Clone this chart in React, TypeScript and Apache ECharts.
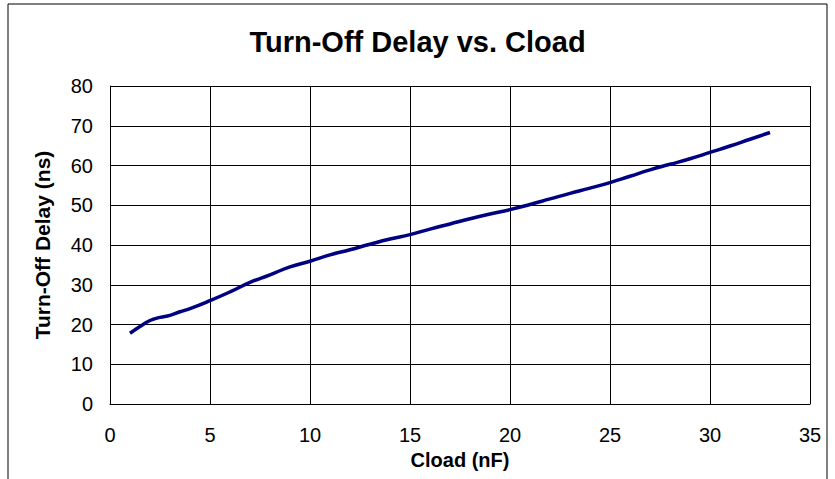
import React, { useEffect, useRef } from "react";
import * as echarts from "echarts";

const titleText = "Turn-Off Delay vs. Cload";
const xName = "Cload (nF)";
const yName = "Turn-Off Delay (ns)";
const cloadNF = [1, 1.5, 2, 2.5, 3, 3.5, 4, 5, 6, 7, 8, 9, 10, 11, 12, 13, 14, 15, 16, 17, 18, 19, 20, 21, 22, 23, 24, 25, 26, 27, 28, 29, 30, 31, 32, 33];
const delayNS = [17.8, 19.5, 21.0, 21.8, 22.3, 23.2, 24.0, 26.0, 28.2, 30.6, 32.5, 34.5, 35.9, 37.5, 38.8, 40.2, 41.5, 42.6, 44.0, 45.3, 46.6, 47.8, 48.9, 50.2, 51.6, 53.0, 54.3, 55.7, 57.3, 58.9, 60.3, 61.7, 63.3, 64.9, 66.6, 68.3];

const FONT = "'Liberation Sans', Arial, sans-serif";

export default function App() {
  const ref = useRef<HTMLDivElement>(null);
  useEffect(() => {
    if (!ref.current) return;
    const chart = echarts.init(ref.current, null, { renderer: "svg" });
    chart.setOption({
      animation: false,
      backgroundColor: "#ffffff",
      title: {
        text: titleText,
        left: "center",
        top: 22,
        textStyle: { fontFamily: FONT, fontSize: 29, fontWeight: "bold", color: "#000" },
      },
      graphic: [
        {
          type: "rect",
          shape: { x: 8, y: 4, width: 819, height: 490 },
          style: { fill: "none", stroke: "#000", lineWidth: 1 },
          silent: true,
        },
      ],
      grid: { left: 110, right: 25, top: 86, bottom: 75, containLabel: false, show: false },
      xAxis: {
        type: "value",
        min: 0,
        max: 35,
        interval: 5,
        name: xName,
        nameLocation: "middle",
        nameGap: 46,
        nameTextStyle: { fontFamily: FONT, fontSize: 20, fontWeight: "bold", color: "#000" },
        axisLine: { show: true, lineStyle: { color: "#000", width: 1 } },
        axisTick: { show: false },
        axisLabel: { fontFamily: FONT, fontSize: 20, color: "#000", margin: 21 },
        splitLine: { show: true, lineStyle: { color: "#000", width: 1 } },
      },
      yAxis: {
        type: "value",
        min: 0,
        max: 80,
        interval: 10,
        name: yName,
        nameLocation: "middle",
        nameGap: 57,
        nameRotate: 90,
        nameTextStyle: { fontFamily: FONT, fontSize: 21, fontWeight: "bold", color: "#000" },
        axisLine: { show: true, lineStyle: { color: "#000", width: 1 } },
        axisTick: { show: false },
        axisLabel: { fontFamily: FONT, fontSize: 20, color: "#000", margin: 17 },
        splitLine: { show: true, lineStyle: { color: "#000", width: 1 } },
      },
      series: [
        {
          type: "line",
          data: cloadNF.map((x, i) => [x, delayNS[i]]),
          smooth: true,
          showSymbol: false,
          lineStyle: { color: "#000080", width: 3.5 },
        },
      ],
    });
    return () => chart.dispose();
  }, []);
  return <div ref={ref} style={{ width: 835, height: 479, position: "absolute", left: 0, top: 0 }} />;
}
